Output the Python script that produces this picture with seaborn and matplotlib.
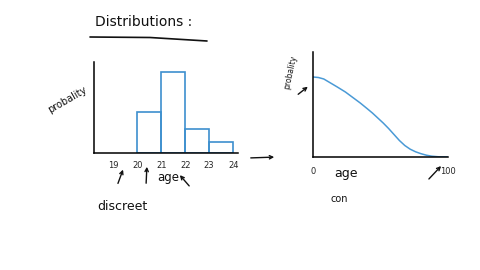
import matplotlib
matplotlib.use("Agg")
import matplotlib.pyplot as plt
import seaborn as sns
import pandas as pd
from matplotlib.lines import Line2D

# ---- data ----
ages = [20, 21, 22, 23]
probs = [0.25, 0.50, 0.15, 0.07]
bin_edges = [20, 21, 22, 23, 24]
age_ticks = [19, 20, 21, 22, 23, 24]

cont_age = [0, 4, 8, 13, 18, 24, 30, 35, 40, 44, 48, 52, 56, 60, 64, 68, 72, 76, 80, 84, 88, 93, 100]
cont_prob = [0.80, 0.795, 0.78, 0.74, 0.70, 0.65, 0.59, 0.54, 0.485, 0.44, 0.39, 0.34, 0.285, 0.225, 0.165, 0.115, 0.078, 0.052, 0.033, 0.018, 0.008, 0.002, 0.0]

sns.set_theme(style="white")
plt.rcParams['font.family'] = ['DejaVu Sans']

W, H = 480, 270
fig = plt.figure(figsize=(4.8, 2.7), dpi=100)
fig.patch.set_facecolor("white")

def fx(px):
    return px / W

def fy(py):
    return 1 - py / H

blue = "#3d8fce"

# ---- left: discrete histogram ----
axL = fig.add_axes([fx(94), fy(153), fx(238 - 94), (153 - 62) / H])
df = pd.DataFrame({"age": ages, "p": probs})
sns.histplot(data=df, x="age", weights="p", bins=bin_edges, fill=False,
             element="bars", color=blue, linewidth=1.2, ax=axL)
axL.set_xlim(18.2, 24.2)
axL.set_ylim(0, 0.5617)
axL.set_xticks(age_ticks)
axL.set_xticklabels([str(a) for a in age_ticks], fontsize=6)
axL.tick_params(axis="x", direction="inout", length=6, width=1, color="black", pad=3)
axL.set_yticks([])
axL.set_xlabel("")
axL.set_ylabel("")
for s in ["top", "right"]:
    axL.spines[s].set_visible(False)
for s in ["left", "bottom"]:
    axL.spines[s].set_color("black")
    axL.spines[s].set_linewidth(1.1)
axL.patch.set_alpha(0)

# ---- right: continuous curve ----
axR = fig.add_axes([fx(313), fy(157), fx(448 - 313), (157 - 52) / H])
dfc = pd.DataFrame({"age": cont_age, "p": cont_prob})
sns.lineplot(data=dfc, x="age", y="p", color="#4a9ad6", linewidth=1.1, ax=axR)
axR.set_xlim(0, 100)
axR.set_ylim(0, 1.05)
axR.set_xticks([0, 100])
axR.set_xticklabels(["0", "100"], fontsize=6)
axR.tick_params(axis="x", direction="inout", length=7, width=1, color="black", pad=4)
axR.set_yticks([])
axR.set_xlabel("")
axR.set_ylabel("")
for s in ["top", "right"]:
    axR.spines[s].set_visible(False)
for s in ["left", "bottom"]:
    axR.spines[s].set_color("black")
    axR.spines[s].set_linewidth(1.1)
axR.patch.set_alpha(0)

# ---- text ----
fig.text(fx(95), fy(22), "Distributions :", fontsize=10, ha="left", va="center", color="#111")
fig.add_artist(Line2D([fx(90), fx(150), fx(207)], [fy(37), fy(37.5), fy(41)], color="#111", lw=1.2))

fig.text(fx(67), fy(100), "probality", fontsize=7, rotation=30, ha="center", va="center", color="#111")
fig.text(fx(168), fy(177), "age", fontsize=8.5, ha="center", va="center", color="#111")
fig.text(fx(122), fy(207), "discreet", fontsize=9, ha="center", va="center", color="#111")

fig.text(fx(290), fy(72), "probality", fontsize=5.5, rotation=78, ha="center", va="center", color="#111")
fig.text(fx(346), fy(173), "age", fontsize=9, ha="center", va="center", color="#111")
fig.text(fx(339), fy(199), "con", fontsize=7, ha="center", va="center", color="#111")

# ---- hand-drawn style arrows ----
def arrow(x0, y0, x1, y1):
    fig.add_artist(matplotlib.patches.FancyArrowPatch(
        (fx(x0), fy(y0)), (fx(x1), fy(y1)), transform=fig.transFigure,
        arrowstyle="->", mutation_scale=6, lw=1, color="#111"))

arrow(117, 186, 124, 167)
arrow(146, 186, 147, 164)
arrow(191, 188, 178, 173)
arrow(248, 158, 277, 157)
arrow(296, 96, 310, 85)
arrow(427, 181, 443, 164)

fig.savefig("out.png", dpi=100, facecolor="white")
